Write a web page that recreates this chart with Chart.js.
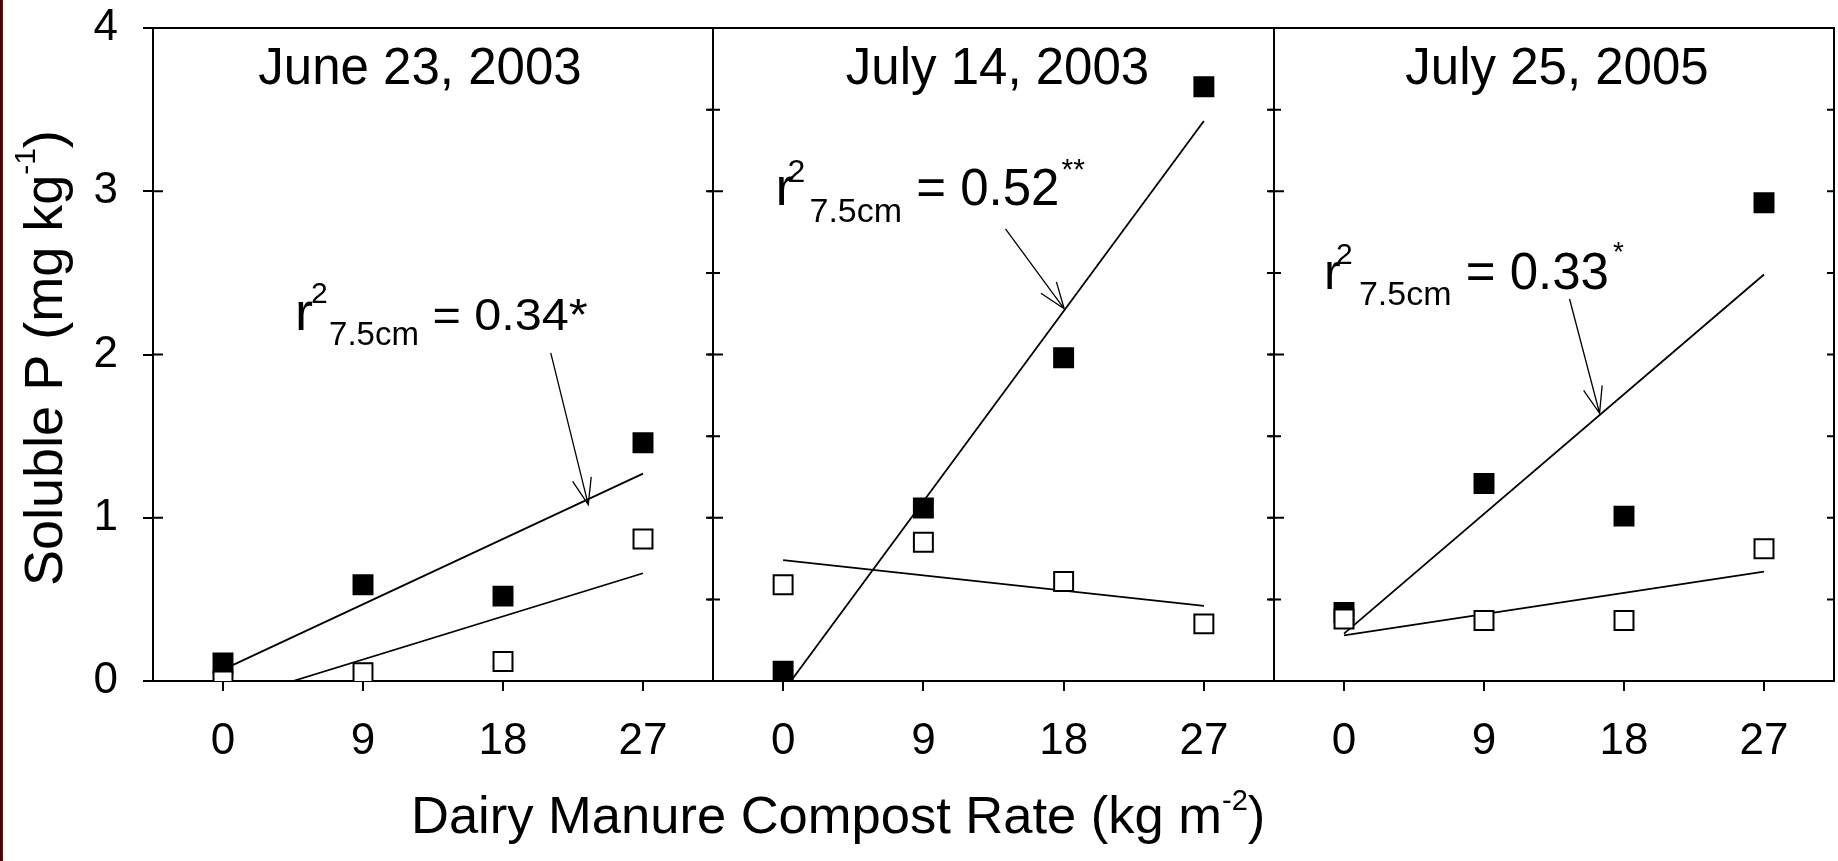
<!DOCTYPE html>
<html>
<head>
<meta charset="utf-8">
<title>Soluble P and dairy manure compost rate</title>
<script src="https://cdn.jsdelivr.net/npm/chart.js@4.4.0/dist/chart.umd.min.js"></script>
<style>
    html, body { margin: 0; padding: 0; background: #fff; }
    #wrap { position: relative; width: 1838px; height: 861px; overflow: hidden; background: #fff; }
    #wrap canvas { position: absolute; left: 0; top: 0; }
    #edge { position: absolute; left: 0; top: 0; width: 3px; height: 861px; background: linear-gradient(to right, #3c0000, #701212); }
</style>
</head>
<body>
<div id="wrap">
    <canvas id="panel-1" width="1838" height="861"></canvas>
    <canvas id="panel-2" width="1838" height="861"></canvas>
    <canvas id="panel-3" width="1838" height="861"></canvas>
    <div id="edge"></div>
</div>
<script>
const FONT = '"Liberation Sans", Arial, Helvetica, sans-serif';

// Compost rates (kg m-2) and axis ticks
const rates = [0, 9, 18, 27];
const xTicks = [0, 9, 18, 27];
const yMinorTicks = [0.5, 1, 1.5, 2, 2.5, 3, 3.5];
const yMajorTicks = [0, 1, 2, 3, 4];

// Soluble P (mg kg-1): filled squares = 0-7.5 cm, open squares = deeper layer
const june2003Top = [0.11, 0.59, 0.52, 1.46];
const june2003Deep = [0.00, 0.05, 0.12, 0.87];
const july2003Top = [0.06, 1.06, 1.98, 3.64];
const july2003Deep = [0.59, 0.85, 0.61, 0.35];
const july2005Top = [0.42, 1.21, 1.01, 2.93];
const july2005Deep = [0.38, 0.37, 0.37, 0.81];

// Regression lines, end points as [rate, P]
const june2003TopFit = [[0, 0.07], [27, 1.27]];
const june2003DeepFit = [[4.5, 0], [27, 0.66]];
const july2003TopFit = [[0.5, 0], [27, 3.43]];
const july2003DeepFit = [[0, 0.74], [27, 0.46]];
const july2005TopFit = [[0, 0.29], [27, 2.49]];
const july2005DeepFit = [[0, 0.28], [27, 0.67]];

// r2 values for the 7.5 cm layer
const r2Values = ['0.34', '0.52', '0.33'];
const r2Stars = ['*', '**', '*'];

// Panel layout and label styling
const panels = [
    {
        id: 'panel-1', title: 'June 23, 2003', left: 153, right: 713, titleDx: -13,
        top: june2003Top, deep: june2003Deep, topFit: june2003TopFit, deepFit: june2003DeepFit,
        note: { at: [4.63, 2.15], r: 54, sup: 30, supDx: 16, supRise: 27, sub: 33, subDx: 34, subDrop: 15,
                main: 45, sx: 1.08, starsInline: true },
        arrow: [21.07, 2.01, 23.48, 1.08],
        leftTicks: 'major', rightTicks: true
    },
    {
        id: 'panel-2', title: 'July 14, 2003', left: 713, right: 1274, titleDx: 4,
        top: july2003Top, deep: july2003Deep, topFit: july2003TopFit, deepFit: july2003DeepFit,
        note: { at: [-0.49, 2.916], r: 54, sup: 32, supDx: 12, supRise: 23, sub: 34, subDx: 34, subDrop: 17,
                main: 51, sx: 1, star: 30, starDx: 2, starRise: 26 },
        arrow: [14.27, 2.77, 18.04, 2.28],
        leftTicks: 'all', rightTicks: true
    },
    {
        id: 'panel-3', title: 'July 25, 2005', left: 1274, right: 1834, titleDx: 3,
        top: july2005Top, deep: july2005Deep, topFit: july2005TopFit, deepFit: july2005DeepFit,
        note: { at: [-1.29, 2.399], r: 50, sup: 30, supDx: 12, supRise: 25, sub: 34, subDx: 35, subDrop: 16,
                main: 51, sx: 1, star: 28, starDx: 4, starRise: 28 },
        arrow: [14.5, 2.34, 16.43, 1.64],
        leftTicks: 'all', rightTicks: true
    }
];

// Helpers

function pairs(xs, ys) {
    return xs.map((x, i) => ({ x: x, y: ys[i] }));
}

function fitPoints(fit) {
    return fit.map(p => ({ x: p[0], y: p[1] }));
}

// Draws text with an optional horizontal stretch, returns advance width
function drawText(ctx, s, x, y, size, sx) {
    sx = sx || 1;
    ctx.save();
    ctx.font = size + 'px ' + FONT;
    ctx.textAlign = 'left';
    ctx.textBaseline = 'alphabetic';
    ctx.translate(x, y);
    ctx.scale(sx, 1);
    ctx.fillText(s, 0, 0);
    const w = ctx.measureText(s).width * sx;
    ctx.restore();
    return w;
}

// Frame around each panel plus the inner tick marks on the side borders
const framePlugin = {
    id: 'frame',
    beforeDatasetsDraw(chart) {
        const { ctx, chartArea: a, scales: { y } } = chart;
        const p = chart.options.plugins.frame.panel;
        ctx.save();
        ctx.strokeStyle = '#000';
        ctx.lineWidth = 2;
        ctx.strokeRect(a.left, a.top, a.right - a.left, a.bottom - a.top);

        ctx.beginPath();
        if (p.leftTicks === 'major') {
            yMajorTicks.forEach(v => {
                const py = y.getPixelForValue(v);
                ctx.moveTo(a.left, py);
                ctx.lineTo(a.left + 10, py);
            });
        } else {
            yMinorTicks.forEach(v => {
                const py = y.getPixelForValue(v);
                const len = Number.isInteger(v) ? 10 : 7;
                ctx.moveTo(a.left - 5, py);
                ctx.lineTo(a.left + len, py);
            });
        }
        if (p.rightTicks) {
            yMinorTicks.forEach(v => {
                const py = y.getPixelForValue(v);
                ctx.moveTo(a.right, py);
                ctx.lineTo(a.right - 7, py);
            });
        }
        ctx.stroke();
        ctx.restore();
    }
};

// Panel title, r2 label with arrow, and (on the first panel) the axis titles
const notesPlugin = {
    id: 'notes',
    afterDraw(chart) {
        const { ctx, chartArea: a, scales: { x, y } } = chart;
        const p = chart.options.plugins.notes.panel;
        const idx = chart.options.plugins.notes.index;
        ctx.save();
        ctx.fillStyle = '#000';

        // Date title
        ctx.font = '51px ' + FONT;
        ctx.textAlign = 'center';
        ctx.textBaseline = 'alphabetic';
        ctx.fillText(p.title, (a.left + a.right) / 2 + p.titleDx, a.top + 56);

        // r2 label
        const n = p.note;
        const x0 = x.getPixelForValue(n.at[0]);
        const y0 = y.getPixelForValue(n.at[1]);
        drawText(ctx, 'r', x0, y0, n.r);
        drawText(ctx, '2', x0 + n.supDx, y0 - n.supRise, n.sup);
        let cx = x0 + n.subDx;
        cx += drawText(ctx, '7.5cm', cx, y0 + n.subDrop, n.sub);
        if (n.starsInline) {
            drawText(ctx, ' = ' + r2Values[idx] + r2Stars[idx], cx, y0, n.main, n.sx);
        } else {
            cx += drawText(ctx, ' = ' + r2Values[idx], cx, y0, n.main, n.sx);
            drawText(ctx, r2Stars[idx], cx + n.starDx, y0 - n.starRise, n.star);
        }

        // Arrow from the label to its regression line
        const ax = x.getPixelForValue(p.arrow[0]);
        const ay = y.getPixelForValue(p.arrow[1]);
        const bx = x.getPixelForValue(p.arrow[2]);
        const by = y.getPixelForValue(p.arrow[3]);
        const ang = Math.atan2(ay - by, ax - bx);
        const barb = 28;
        const spread = 20 * Math.PI / 180;
        ctx.strokeStyle = '#000';
        ctx.lineWidth = 1.3;
        ctx.beginPath();
        ctx.moveTo(ax, ay);
        ctx.lineTo(bx, by);
        ctx.moveTo(bx + barb * Math.cos(ang - spread), by + barb * Math.sin(ang - spread));
        ctx.lineTo(bx, by);
        ctx.lineTo(bx + barb * Math.cos(ang + spread), by + barb * Math.sin(ang + spread));
        ctx.stroke();

        if (idx === 0) {
            // Y axis title, rotated
            ctx.save();
            ctx.translate(62, 586);
            ctx.rotate(-Math.PI / 2);
            let ty = 0;
            ty += drawText(ctx, 'Soluble P (mg kg', ty, 0, 54);
            ty += drawText(ctx, '-1', ty, -27, 30);
            drawText(ctx, ')', ty, 0, 54);
            ctx.restore();

            // X axis title
            let tx = 411;
            tx += drawText(ctx, 'Dairy Manure Compost Rate (kg m', tx, 833, 52.5);
            tx += drawText(ctx, '-2', tx, 810, 29);
            drawText(ctx, ')', tx, 833, 52.5);
        }
        ctx.restore();
    }
};

function buildChart(p, i) {
    const first = i === 0;
    const square = { pointStyle: 'rect', pointRadius: 13.4, borderColor: '#000', borderWidth: 2 };
    const fitLine = { type: 'line', showLine: true, borderColor: '#000', borderWidth: 1.8, pointRadius: 0, fill: false };

    return new Chart(document.getElementById(p.id), {
        type: 'scatter',
        data: {
            datasets: [
                Object.assign({ label: 'deep', data: pairs(rates, p.deep), backgroundColor: '#fff' }, square),
                Object.assign({ label: '0-7.5 cm', data: pairs(rates, p.top), backgroundColor: '#000' }, square),
                Object.assign({ label: 'fit 0-7.5 cm', data: fitPoints(p.topFit) }, fitLine),
                Object.assign({ label: 'fit deep', data: fitPoints(p.deepFit) }, fitLine)
            ]
        },
        options: {
            responsive: false,
            animation: false,
            events: [],
            layout: {
                autoPadding: false,
                padding: { left: first ? 0 : p.left, right: 1838 - p.right, top: 28, bottom: 0 }
            },
            plugins: {
                legend: { display: false },
                tooltip: { enabled: false },
                frame: { panel: p },
                notes: { panel: p, index: i }
            },
            scales: {
                x: {
                    type: 'linear',
                    position: 'bottom',
                    min: -4.5,
                    max: 31.5,
                    afterBuildTicks: s => { s.ticks = xTicks.map(v => ({ value: v })); },
                    afterFit: s => { s.height = 180; s.paddingLeft = 0; s.paddingRight = 0; },
                    grid: { drawOnChartArea: false, drawTicks: true, tickLength: 10, color: '#000', lineWidth: 2 },
                    border: { display: true, color: '#000', width: 2 },
                    ticks: { color: '#000', font: { family: FONT, size: 44 }, padding: 24, maxRotation: 0, autoSkip: false }
                },
                y: {
                    type: 'linear',
                    display: first,
                    min: 0,
                    max: 4,
                    afterBuildTicks: s => { s.ticks = yMajorTicks.map(v => ({ value: v })); },
                    afterFit: s => { s.width = first ? 153 : 0; s.paddingTop = 0; s.paddingBottom = 0; },
                    grid: { drawOnChartArea: false, drawTicks: true, tickLength: 10, color: '#000', lineWidth: 2 },
                    border: { display: true, color: '#000', width: 2 },
                    ticks: { color: '#000', font: { family: FONT, size: 44 }, padding: 25 }
                }
            }
        },
        plugins: [framePlugin, notesPlugin]
    });
}

panels.forEach(buildChart);
</script>
</body>
</html>
